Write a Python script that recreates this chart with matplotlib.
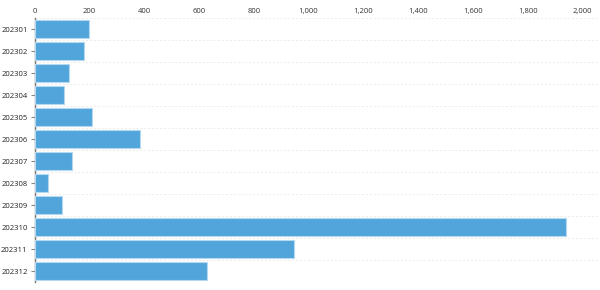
import matplotlib
matplotlib.use("Agg")
import matplotlib.pyplot as plt

months = ["202301", "202302", "202303", "202304", "202305", "202306",
          "202307", "202308", "202309", "202310", "202311", "202312"]
values = [199, 182, 126, 109, 209, 385, 137, 48, 101, 1940, 947, 630]
xticks = [0, 200, 400, 600, 800, 1000, 1200, 1400, 1600, 1800, 2000]

plt.rcParams['font.family'] = ['Open Sans', 'DejaVu Sans']
fig = plt.figure(figsize=(6, 2.9), dpi=100)
ax = fig.add_axes([34.5/600, 1-282/290, (598-34.5)/600, (282-18)/290])

y = list(range(len(months)))
ax.barh(y, values, height=0.8, color="#52a5da", edgecolor="#b3d9f2", linewidth=0.8, zorder=3)
ax.set_ylim(len(months)-0.5, -0.5)
ax.set_xlim(0, 2056)
ax.set_yticks(y)
ax.set_yticklabels(months)
ax.set_xticks(xticks)
ax.set_xticklabels([f"{v:,}" for v in xticks])
ax.xaxis.tick_top()
ax.tick_params(axis='x', length=0, labelsize=5.5, colors="#333333", pad=2.5)
ax.tick_params(axis='y', length=3, width=0.8, color="#888888", labelsize=5.5, labelcolor="#222222", pad=2)
for b in [i - 0.5 for i in range(len(months)+1)]:
    ax.axhline(b, color="#ececec", linewidth=0.7, linestyle=(0, (2, 2)), zorder=1)
for s in ["top", "right", "bottom"]:
    ax.spines[s].set_visible(False)
ax.spines["left"].set_color("#777777")
ax.spines["left"].set_linewidth(1)
fig.savefig("out.png", dpi=100)
